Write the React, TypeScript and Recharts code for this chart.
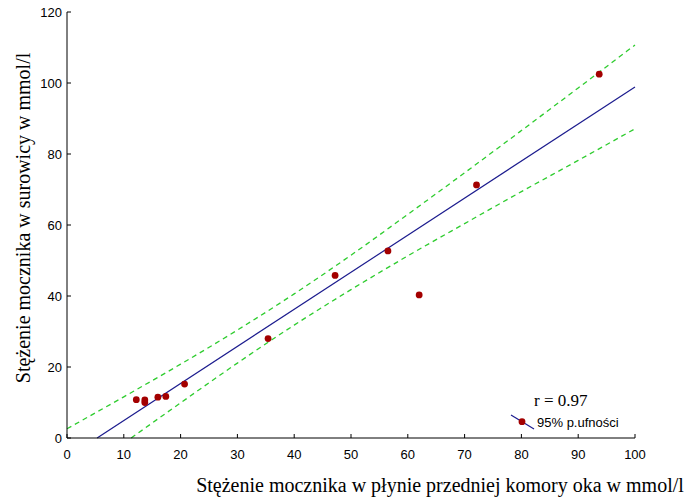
import React from "react";
import {
  ComposedChart,
  Line,
  Scatter,
  XAxis,
  YAxis,
} from "recharts";

// measured points: aqueous humour (x) vs serum (y) urea, mmol/l
const pointX = [12.2, 13.7, 13.7, 16.0, 17.4, 20.7, 35.4, 47.2, 56.5, 62.0, 72.1, 93.7];
const pointY = [10.8, 10.7, 10.0, 11.5, 11.7, 15.2, 28.0, 45.8, 52.7, 40.3, 71.3, 102.5];

// regression line ends
const fitX = [5.3, 100];
const fitY = [0, 98.9];

// 95% confidence band
const upperX = [0, 10, 20, 30, 40, 50, 60, 70, 80, 90, 100];
const upperY = [2.6, 11.6, 20.8, 30.4, 40.6, 51.5, 63.0, 74.7, 86.6, 98.6, 110.7];
const lowerX = [11.3, 20, 30, 40, 50, 60, 70, 80, 90, 100];
const lowerY = [0, 9.9, 21.1, 31.8, 41.8, 51.3, 60.4, 69.4, 78.2, 87.1];

const xTicks = [0, 10, 20, 30, 40, 50, 60, 70, 80, 90, 100];
const yTicks = [0, 20, 40, 60, 80, 100, 120];

const zip = (xs: number[], ys: number[]) => xs.map((x, i) => ({ x, y: ys[i] }));

const points = zip(pointX, pointY);
const fit = zip(fitX, fitY);
const upper = zip(upperX, upperY);
const lower = zip(lowerX, lowerY);

const DOT = "#a30000";
const FIT = "#1c1c8e";
const BAND = "#2ecc2e";
const serif = "'Liberation Serif', 'Times New Roman', serif";
const sans = "'Liberation Sans', Arial, sans-serif";

const tickStyle = { fill: "#000", fontSize: 13, fontFamily: sans };

// legend + correlation note, sits over the lower right of the plot
const LegendBox = () => (
  <svg
    width={135}
    height={45}
    style={{ position: "absolute", left: 505, top: 388, overflow: "visible" }}
  >
    <text x={29} y={18} fontFamily={serif} fontSize={17} fill="#000">
      r = 0.97
    </text>
    <line x1={6} y1={27} x2={29} y2={41} stroke={FIT} strokeWidth={1.2} />
    <circle cx={17} cy={33.7} r={3.4} fill={DOT} />
    <text x={32} y={39.4} fontFamily={sans} fontSize={13} fill="#000">
      95% p.ufności
    </text>
  </svg>
);

export default function App() {
  return (
    <div style={{ position: "absolute", left: 0, top: 0, width: 685, height: 501 }}>
      <ComposedChart
        width={685}
        height={501}
        margin={{ top: 12, right: 50, bottom: 0, left: 0 }}
      >
        <XAxis
          type="number"
          dataKey="x"
          domain={[0, 100]}
          ticks={xTicks}
          tickSize={-4}
          tickMargin={16}
          tick={tickStyle}
          stroke="#000"
          height={63}
          label={{
            content: () => (
              <text
                x={440}
                y={492}
                textAnchor="middle"
                fontFamily={serif}
                fontSize={20}
                fill="#000"
              >
                Stężenie mocznika w płynie przedniej komory oka w mmol/l
              </text>
            ),
          }}
        />
        <YAxis
          type="number"
          dataKey="y"
          domain={[0, 120]}
          ticks={yTicks}
          width={67}
          tickSize={-4}
          tickMargin={9}
          tick={tickStyle}
          stroke="#000"
          label={{
            content: () => (
              <text
                x={30}
                y={218}
                transform="rotate(-90 30 218)"
                textAnchor="middle"
                fontFamily={serif}
                fontSize={20}
                fill="#000"
              >
                Stężenie mocznika w surowicy w mmol/l
              </text>
            ),
          }}
        />
        <Line
          data={upper}
          dataKey="y"
          type="monotone"
          stroke={BAND}
          strokeWidth={1.3}
          strokeDasharray="5 4"
          dot={false}
          isAnimationActive={false}
        />
        <Line
          data={lower}
          dataKey="y"
          type="monotone"
          stroke={BAND}
          strokeWidth={1.3}
          strokeDasharray="5 4"
          dot={false}
          isAnimationActive={false}
        />
        <Line
          data={fit}
          dataKey="y"
          type="linear"
          stroke={FIT}
          strokeWidth={1.2}
          dot={false}
          isAnimationActive={false}
        />
        <Scatter
          data={points}
          dataKey="y"
          fill={DOT}
          shape={(p: any) => <circle cx={p.cx} cy={p.cy} r={3.4} fill={DOT} />}
          isAnimationActive={false}
        />
      </ComposedChart>
      <LegendBox />
    </div>
  );
}
